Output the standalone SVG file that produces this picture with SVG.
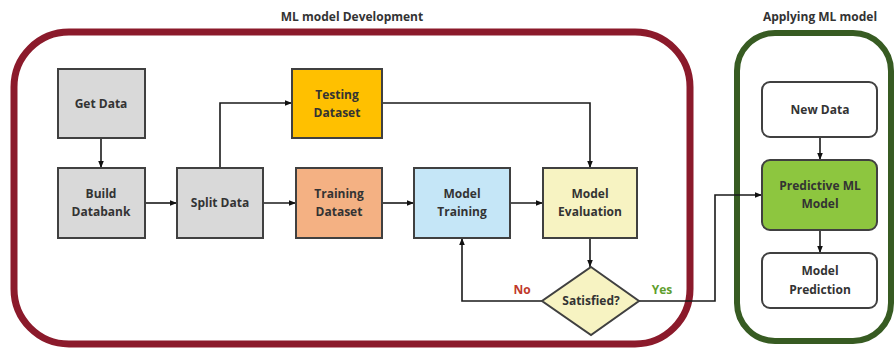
<svg xmlns="http://www.w3.org/2000/svg" width="895" height="352" viewBox="0 0 895 352">
<defs>
<marker id="ah" viewBox="0 0 10 10" refX="10" refY="5" markerWidth="7" markerHeight="7" orient="auto" markerUnits="userSpaceOnUse"><path d="M0,1 L10,5 L0,9 z" fill="#111"/></marker>
</defs>
<style>
text{font-family:"Open Sans","Liberation Sans",sans-serif;font-weight:bold;font-size:12px;fill:#333;text-anchor:middle}
.box{stroke:#404040;stroke-width:2}
.rbox{stroke:#404040;stroke-width:2;fill:#fff}
.con{fill:none;stroke:#1a1a1a;stroke-width:1.6;marker-end:url(#ah)}
.line{fill:none;stroke:#1a1a1a;stroke-width:1.6}
</style>
<rect width="895" height="352" fill="#fff"/>
<g id="group-dev">
<rect x="14" y="32" width="676" height="312" rx="55" fill="none" stroke="#8B1A2B" stroke-width="7"/>
<text x="352" y="21" style="font-size:12px">ML model Development</text>
</g>
<g id="group-apply">
<rect x="737" y="33" width="154" height="308" rx="38" fill="none" stroke="#375B22" stroke-width="6"/>
<text x="820" y="21">Applying ML model</text>
</g>
<g id="connectors">
<path class="con" d="M101,138 V168"/>
<path class="con" d="M145,203 H177"/>
<path class="con" d="M220,168 V103 H292"/>
<path class="con" d="M263,203 H296"/>
<path class="con" d="M382,203 H414"/>
<path class="con" d="M510,203 H543"/>
<path class="con" d="M382,103 H590 V168"/>
<path class="con" d="M590,238 V267"/>
<path class="con" d="M542,301 H462 V238"/>
<path class="con" d="M639,301 H715 V195 H762"/>
<path class="con" d="M820,137 V160"/>
<path class="con" d="M820,230 V253"/>
<text x="522" y="294" style="fill:#C0392B">No</text>
<text x="662" y="294" style="fill:#5E9E2E">Yes</text>
</g>
<g id="get-data"><rect class="box" x="58" y="69" width="87" height="69" fill="#D9D9D9"/><text x="101" y="108">Get Data</text></g>
<g id="build-databank"><rect class="box" x="58" y="168" width="87" height="70" fill="#D9D9D9"/><text x="101" y="198">Build</text><text x="101" y="216">Databank</text></g>
<g id="split-data"><rect class="box" x="177" y="168" width="86" height="70" fill="#D9D9D9"/><text x="220" y="207">Split Data</text></g>
<g id="testing-dataset"><rect class="box" x="292" y="69" width="90" height="69" fill="#FFC000"/><text x="337" y="99">Testing</text><text x="337" y="117">Dataset</text></g>
<g id="training-dataset"><rect class="box" x="296" y="168" width="86" height="70" fill="#F4B183"/><text x="339" y="198">Training</text><text x="339" y="216">Dataset</text></g>
<g id="model-training"><rect class="box" x="414" y="168" width="96" height="70" fill="#C5E6F7"/><text x="462" y="198">Model</text><text x="462" y="216">Training</text></g>
<g id="model-evaluation"><rect class="box" x="543" y="168" width="94" height="70" fill="#F7F3C2"/><text x="590" y="198">Model</text><text x="590" y="216">Evaluation</text></g>
<g id="satisfied"><polygon class="box" points="591,267 639,301 591,335 542,301" fill="#F7F3C2"/><text x="591" y="305">Satisfied?</text></g>
<g id="new-data"><rect class="rbox" x="762" y="82" width="115" height="55" rx="8"/><text x="820" y="114">New Data</text></g>
<g id="predictive-model"><rect class="box" x="762" y="160" width="115" height="70" rx="8" fill="#8DC63F"/><text x="820" y="190">Predictive ML</text><text x="820" y="208">Model</text></g>
<g id="model-prediction"><rect class="rbox" x="762" y="253" width="115" height="55" rx="8"/><text x="820" y="275">Model</text><text x="820" y="294">Prediction</text></g>
</svg>
